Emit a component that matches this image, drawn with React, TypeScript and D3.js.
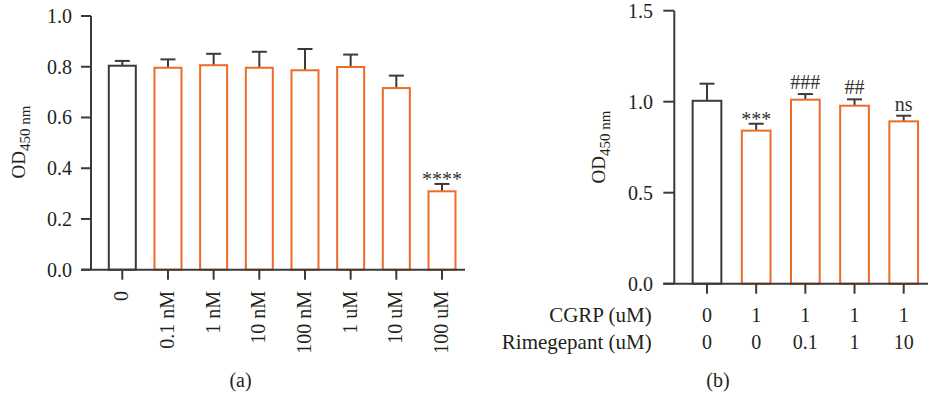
import React from "react";
import * as d3 from "d3";

// Panel (a)
const catsA = ["0", "0.1 nM", "1 nM", "10 nM", "100 nM", "1 uM", "10 uM", "100 uM"];
const meanA = [0.804, 0.796, 0.806, 0.796, 0.786, 0.799, 0.716, 0.309];
const errA = [0.823, 0.829, 0.851, 0.859, 0.870, 0.848, 0.765, 0.338];
const annA = ["", "", "", "", "", "", "", "****"];
const ticksA = [0, 0.2, 0.4, 0.6, 0.8, 1.0];

// Panel (b)
const catsB = ["g0", "g1", "g2", "g3", "g4"];
const cgrp = ["0", "1", "1", "1", "1"];
const rime = ["0", "0", "0.1", "1", "10"];
const meanB = [1.005, 0.841, 1.011, 0.978, 0.892];
const errB = [1.099, 0.879, 1.042, 1.013, 0.923];
const annB = ["", "***", "###", "##", "ns"];
const ticksB = [0, 0.5, 1.0, 1.5];

const DARK = "#3a3a3a";
const ORANGE = "#EE6A26";
const TXT = "#231f20";
const FONT = "'Liberation Serif', 'Times New Roman', serif";

function YLabel({ x, y }: { x: number; y: number }) {
  return (
    <text
      transform={`translate(${x},${y}) rotate(-90)`}
      textAnchor="middle"
      fontFamily={FONT}
      fontSize={19}
      fill={TXT}
    >
      OD
      <tspan fontSize={15} dy={5}>
        450 nm
      </tspan>
    </text>
  );
}

function Bars({
  cats,
  means,
  errs,
  anns,
  x,
  y,
  bw,
}: {
  cats: string[];
  means: number[];
  errs: number[];
  anns: string[];
  x: d3.ScalePoint<string>;
  y: d3.ScaleLinear<number, number>;
  bw: number;
}) {
  const y0 = y(0);
  return (
    <g>
      {cats.map((c, i) => {
        const cx = x(c)!;
        const top = y(means[i]);
        const et = y(errs[i]);
        const col = i === 0 ? DARK : ORANGE;
        const isAst = anns[i].startsWith("*");
        return (
          <g key={c}>
            <line x1={cx} x2={cx} y1={top} y2={et} stroke={DARK} strokeWidth={2} />
            <line x1={cx - 7.5} x2={cx + 7.5} y1={et} y2={et} stroke={DARK} strokeWidth={2} />
            <rect
              x={cx - bw / 2}
              y={top}
              width={bw}
              height={y0 - top}
              fill="#fff"
              stroke={col}
              strokeWidth={2}
            />
            {anns[i] && (
              <text
                x={cx}
                y={isAst ? et + 2 : et - 5}
                textAnchor="middle"
                fontFamily={FONT}
                fontSize={20}
                fill="#333"
              >
                {anns[i]}
              </text>
            )}
          </g>
        );
      })}
    </g>
  );
}

export default function App() {
  const xA = d3.scalePoint<string>().domain(catsA).range([122.3, 442]);
  const yA = d3.scaleLinear().domain([0, 1]).range([269.7, 16]);
  const xB = d3.scalePoint<string>().domain(catsB).range([707, 903.7]);
  const yB = d3.scaleLinear().domain([0, 1.5]).range([283.7, 10.7]);

  const axA = 91;
  const axB = 674.3;

  return (
    <svg
      width={929}
      height={400}
      style={{ position: "absolute", left: 0, top: 0, background: "#fff" }}
    >
      <rect width={929} height={400} fill="#fff" />
      {/* ---------- Panel A ---------- */}
      <Bars cats={catsA} means={meanA} errs={errA} anns={annA} x={xA} y={yA} bw={27} />
      <line x1={axA} x2={axA} y1={yA(1)} y2={yA(0)} stroke={DARK} strokeWidth={2} />
      <line x1={81} x2={465} y1={yA(0)} y2={yA(0)} stroke={DARK} strokeWidth={2} />
      {ticksA.map((t) => (
        <g key={t}>
          <line x1={81} x2={axA} y1={yA(t)} y2={yA(t)} stroke={DARK} strokeWidth={2} />
          <text
            x={72}
            y={yA(t)}
            dy="0.34em"
            textAnchor="end"
            fontFamily={FONT}
            fontSize={20}
            fill={TXT}
          >
            {d3.format(".1f")(t)}
          </text>
        </g>
      ))}
      {catsA.map((c) => (
        <g key={c}>
          <line x1={xA(c)!} x2={xA(c)!} y1={yA(0)} y2={yA(0) + 10} stroke={DARK} strokeWidth={2} />
          <text
            transform={`translate(${xA(c)! + 6},${291}) rotate(-90)`}
            textAnchor="end"
            fontFamily={FONT}
            fontSize={20}
            fill={TXT}
          >
            {c}
          </text>
        </g>
      ))}
      <YLabel x={25} y={142} />
      <text x={240.5} y={387} textAnchor="middle" fontFamily={FONT} fontSize={20} fill={TXT}>
        (a)
      </text>

      {/* ---------- Panel B ---------- */}
      <Bars cats={catsB} means={meanB} errs={errB} anns={annB} x={xB} y={yB} bw={28.7} />
      <line x1={axB} x2={axB} y1={yB(1.5)} y2={yB(0)} stroke={DARK} strokeWidth={2} />
      <line x1={663.3} x2={928} y1={yB(0)} y2={yB(0)} stroke={DARK} strokeWidth={2} />
      {ticksB.map((t) => (
        <g key={t}>
          <line x1={663.3} x2={axB} y1={yB(t)} y2={yB(t)} stroke={DARK} strokeWidth={2} />
          <text
            x={653}
            y={yB(t)}
            dy="0.34em"
            textAnchor="end"
            fontFamily={FONT}
            fontSize={20}
            fill={TXT}
          >
            {d3.format(".1f")(t)}
          </text>
        </g>
      ))}
      {catsB.map((c, i) => (
        <g key={c}>
          <line x1={xB(c)!} x2={xB(c)!} y1={yB(0)} y2={yB(0) + 10} stroke={DARK} strokeWidth={2} />
          <text x={xB(c)!} y={321.5} textAnchor="middle" fontFamily={FONT} fontSize={20} fill={TXT}>
            {cgrp[i]}
          </text>
          <text x={xB(c)!} y={349.3} textAnchor="middle" fontFamily={FONT} fontSize={20} fill={TXT}>
            {rime[i]}
          </text>
        </g>
      ))}
      <text x={651.7} y={321.5} textAnchor="end" fontFamily={FONT} fontSize={21} fill={TXT}>
        CGRP (uM)
      </text>
      <text x={651.7} y={349.3} textAnchor="end" fontFamily={FONT} fontSize={21} fill={TXT}>
        Rimegepant (uM)
      </text>
      <YLabel x={605} y={147} />
      <text x={718} y={387} textAnchor="middle" fontFamily={FONT} fontSize={20} fill={TXT}>
        (b)
      </text>
    </svg>
  );
}
